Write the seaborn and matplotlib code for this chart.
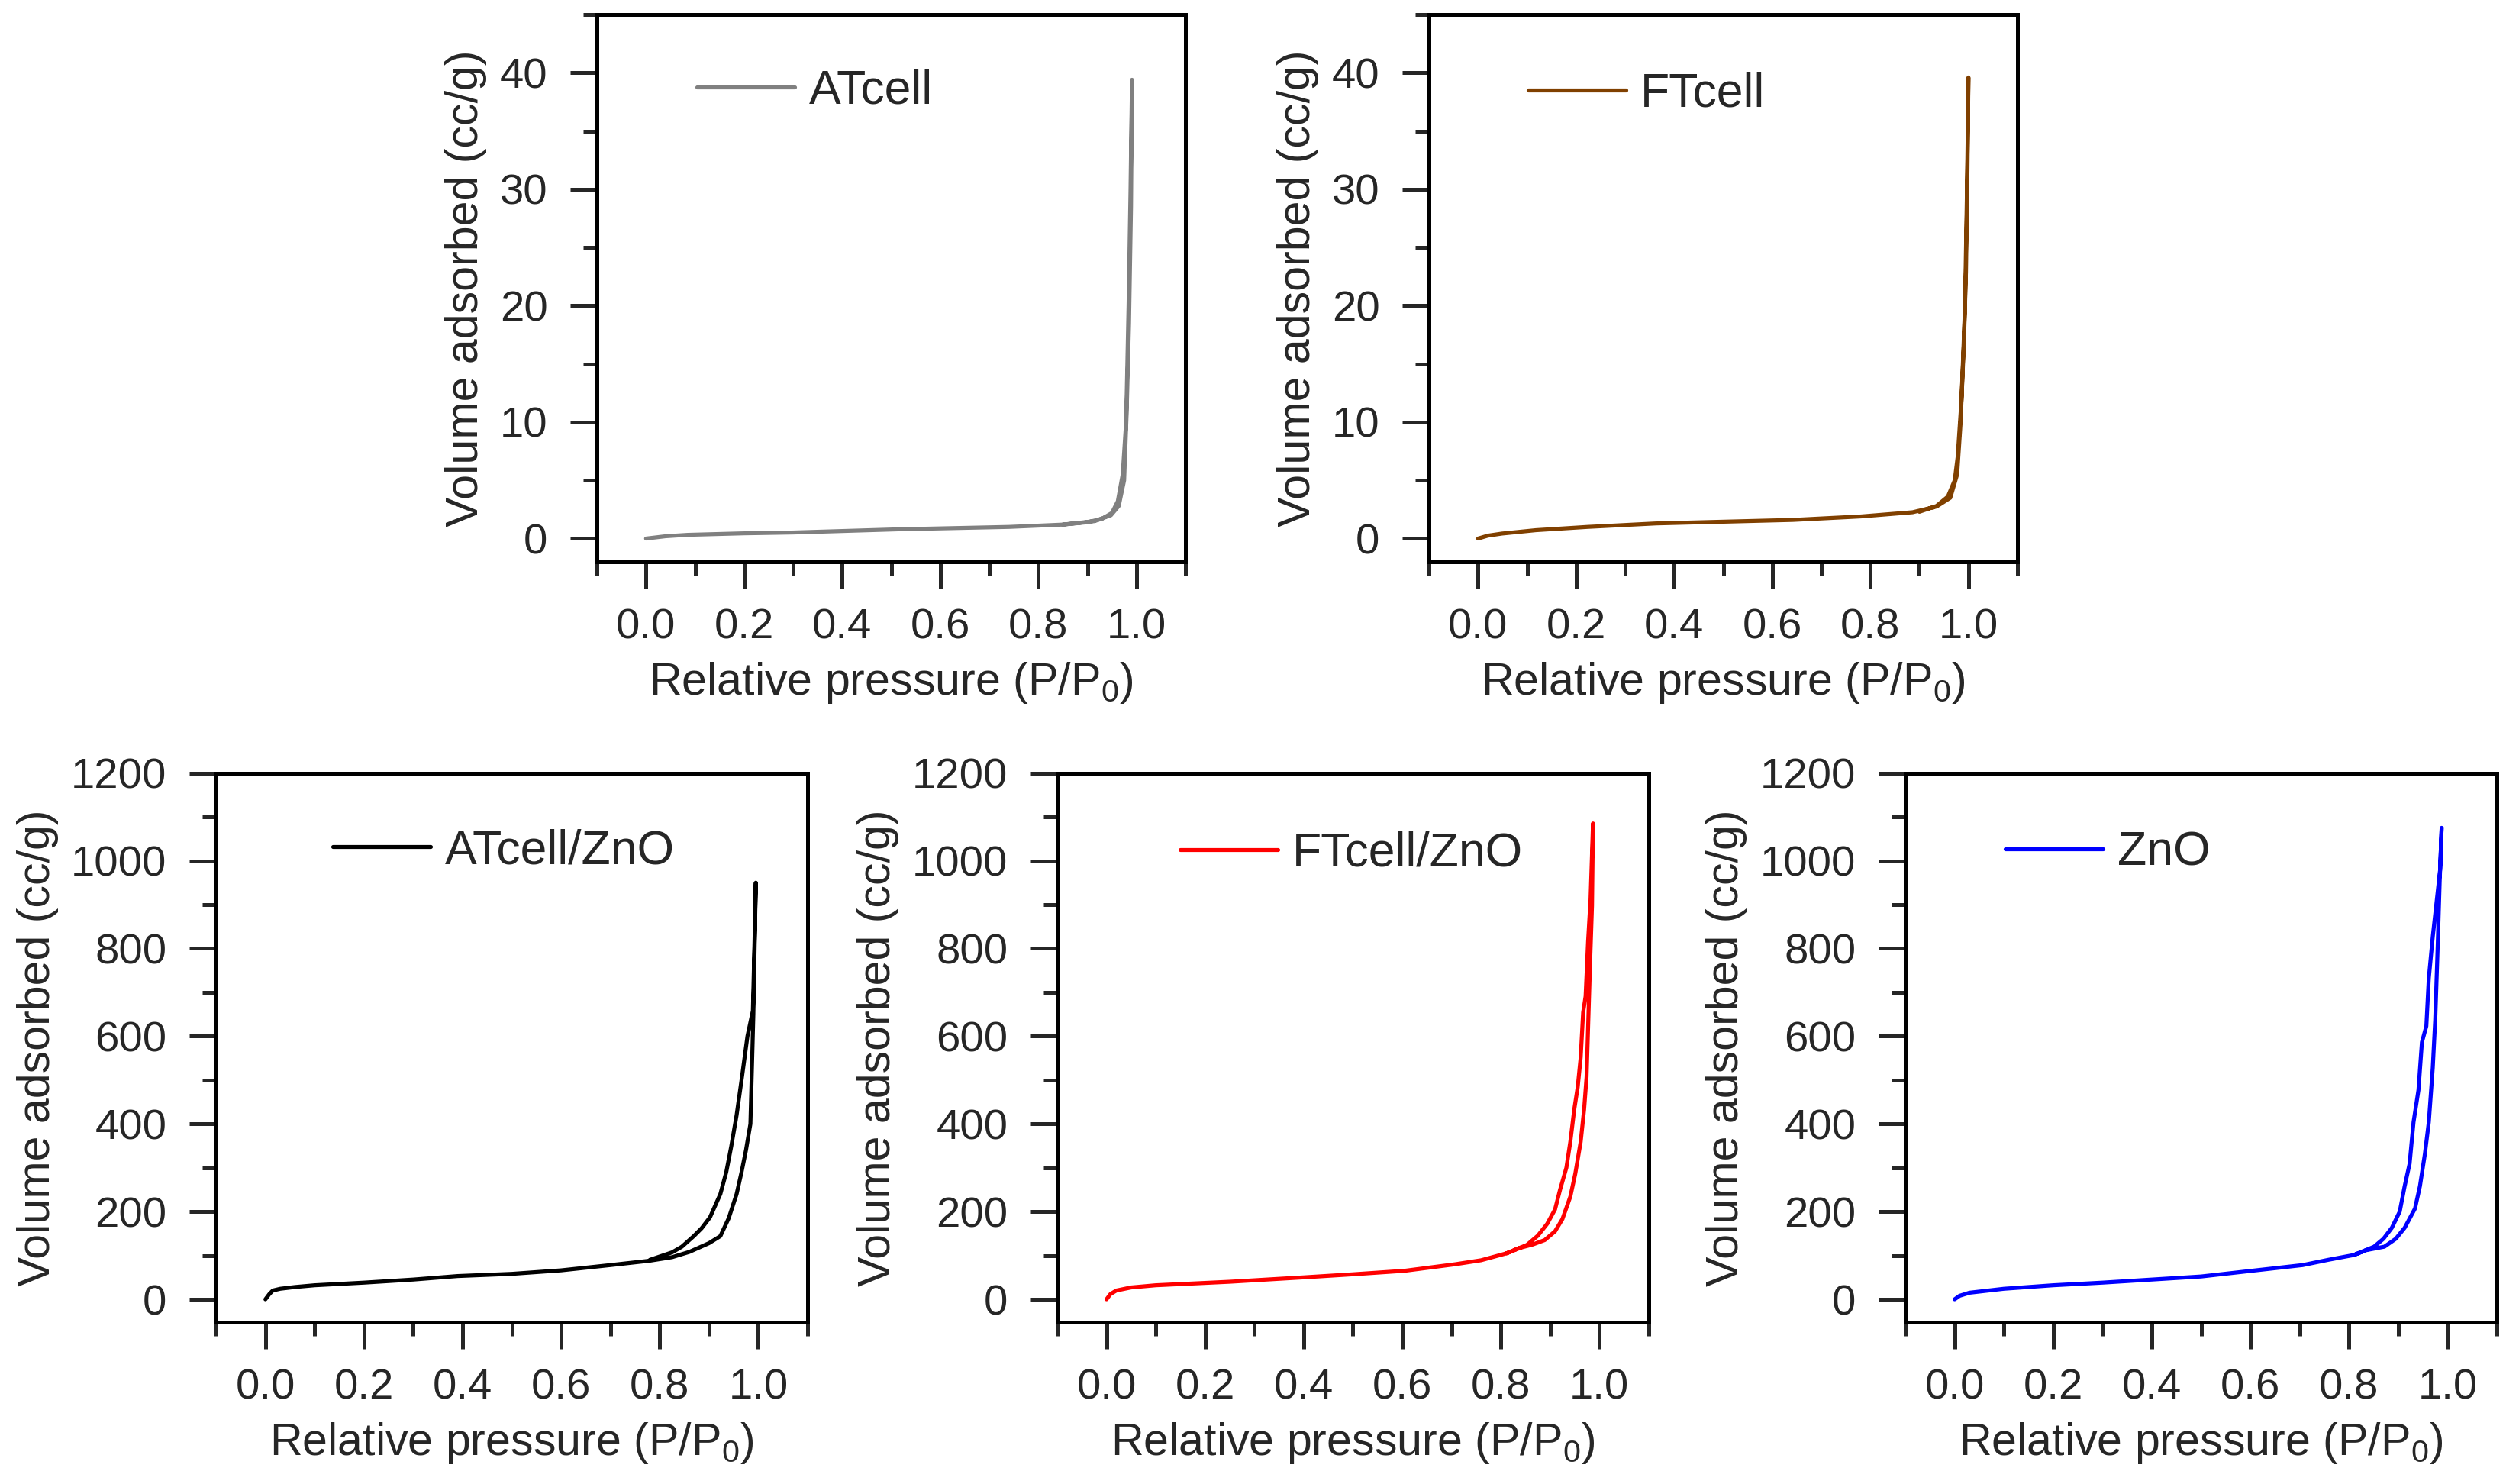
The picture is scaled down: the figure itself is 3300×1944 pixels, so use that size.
import matplotlib
matplotlib.use("Agg")
import matplotlib.pyplot as plt
from matplotlib.ticker import MultipleLocator
import seaborn as sns
import pandas as pd

# isotherm data: adsorption branch up, then desorption branch back down
atcell_p = [0.0, 0.04, 0.085, 0.2, 0.3, 0.52, 0.74, 0.85, 0.915, 0.948, 0.964, 0.975, 0.98, 0.985, 0.989, 0.991,
            0.988, 0.984, 0.979, 0.972, 0.962, 0.95, 0.93, 0.9, 0.85]
atcell_v = [0.0, 0.2, 0.32, 0.45, 0.52, 0.8, 1.0, 1.2, 1.5, 2.0, 2.8, 5.0, 10.6, 18.5, 28.5, 39.4,
            30.0, 20.0, 10.0, 5.5, 3.2, 2.2, 1.7, 1.4, 1.2]

ftcell_p = [0.0, 0.02, 0.049, 0.118, 0.223, 0.363, 0.502, 0.642, 0.781, 0.886, 0.935, 0.963, 0.977, 0.984, 0.991, 0.995, 0.998, 1.0,
            0.997, 0.993, 0.986, 0.978, 0.972, 0.958, 0.935, 0.9]
ftcell_v = [0.0, 0.25, 0.43, 0.72, 1.0, 1.3, 1.45, 1.6, 1.9, 2.26, 2.75, 3.5, 5.5, 9.9, 17.1, 22.9, 31.6, 39.6,
            30.0, 20.0, 12.0, 7.0, 5.0, 3.6, 2.8, 2.3]

atzno_p = [0.0, 0.008, 0.015, 0.03, 0.06, 0.1, 0.2, 0.3, 0.39, 0.5, 0.6, 0.7, 0.78, 0.825, 0.86, 0.88, 0.9, 0.923, 0.94,
           0.956, 0.966, 0.975, 0.984, 0.99, 0.995,
           0.992, 0.989, 0.978, 0.967, 0.956, 0.945, 0.935, 0.923, 0.902, 0.885, 0.869, 0.845, 0.825, 0.78]
atzno_v = [0.0, 12, 20, 24, 28, 32, 38, 45, 53, 58, 66, 78, 88, 96, 108, 118, 128, 144, 185,
           240, 290, 340, 400, 650, 950,
           800, 658, 600, 508, 420, 348, 290, 240, 187, 162, 144, 120, 107, 90]

ftzno_p = [0.0, 0.008, 0.02, 0.05, 0.1, 0.25, 0.4, 0.5, 0.605, 0.708, 0.76, 0.812, 0.838, 0.865, 0.889, 0.91, 0.925, 0.941, 0.951,
           0.962, 0.969, 0.974, 0.977, 0.981, 0.985, 0.987,
           0.982, 0.977, 0.972, 0.967, 0.962, 0.956, 0.949, 0.941, 0.933, 0.92, 0.91, 0.894, 0.875, 0.853, 0.812]
ftzno_v = [0.0, 12, 20, 27, 32, 40, 50, 57, 65, 80, 89, 105, 117, 125, 135, 155, 183, 234, 286,
           359, 433, 507, 617, 764, 897, 1085,
           911, 816, 691, 654, 551, 484, 433, 359, 300, 249, 205, 172, 145, 124, 105]

zno_p = [0.0, 0.01, 0.03, 0.1, 0.2, 0.3, 0.4, 0.5, 0.603, 0.706, 0.758, 0.81, 0.835, 0.872, 0.895, 0.913, 0.934, 0.944, 0.954,
         0.962, 0.97, 0.975, 0.98, 0.984, 0.988,
         0.985, 0.975, 0.97, 0.962, 0.957, 0.948, 0.941, 0.931, 0.923, 0.913, 0.903, 0.887, 0.87, 0.851, 0.81]
zno_v = [0.0, 8, 15, 24, 32, 38, 45, 52, 65, 78, 90, 101, 112, 120, 138, 163, 207, 258, 331,
         404, 528, 637, 805, 951, 1075,
         980, 878, 827, 732, 623, 586, 477, 404, 309, 258, 200, 163, 138, 120, 101]

names = ["ATcell", "FTcell", "ATcell/ZnO", "FTcell/ZnO", "ZnO"]
colors = ["#808080", "#804000", "#000000", "#FF0000", "#0000FF"]
pressures = [atcell_p, ftcell_p, atzno_p, ftzno_p, zno_p]
volumes = [atcell_v, ftcell_v, atzno_v, ftzno_v, zno_v]

sns.set_style("ticks")
plt.rcParams["font.family"] = ["Liberation Sans", "DejaVu Sans"]
plt.rcParams["mathtext.default"] = "regular"
plt.rcParams["axes.linewidth"] = 1.2

fig = plt.figure(figsize=(11, 6.48), dpi=300)

# axes boxes in figure fraction (left, bottom, width, height)
boxes = [
    (0.2370, 0.6214, 0.2336, 0.3688),
    (0.5673, 0.6214, 0.2336, 0.3688),
    (0.0858, 0.1091, 0.2348, 0.3700),
    (0.4197, 0.1091, 0.2348, 0.3700),
    (0.7564, 0.1091, 0.2348, 0.3700),
]
legend_pos = [(0.17, 0.86), (0.168, 0.855), (0.197, 0.858), (0.208, 0.853), (0.169, 0.855)]

for i in range(5):
    ax = fig.add_axes(boxes[i])
    df = pd.DataFrame({"p": pressures[i], "v": volumes[i]})
    sns.lineplot(data=df, x="p", y="v", sort=False, estimator=None, color=colors[i],
                 linewidth=1.25, label=names[i], ax=ax)
    ax.set_xlim(-0.1, 1.1)
    ax.xaxis.set_major_locator(MultipleLocator(0.2))
    ax.xaxis.set_minor_locator(MultipleLocator(0.1))
    if i < 2:
        ax.set_ylim(-2, 45)
        ax.yaxis.set_major_locator(MultipleLocator(10))
        ax.yaxis.set_minor_locator(MultipleLocator(5))
    else:
        ax.set_ylim(-52, 1200)
        ax.yaxis.set_major_locator(MultipleLocator(200))
        ax.yaxis.set_minor_locator(MultipleLocator(100))
    ax.set_xticks([0.0, 0.2, 0.4, 0.6, 0.8, 1.0])
    ax.set_xticklabels(["0.0", "0.2", "0.4", "0.6", "0.8", "1.0"])
    ax.tick_params(axis="both", which="major", direction="out", length=8.5, width=1.2,
                   labelsize=13.5, top=False, right=False)
    ax.tick_params(axis="both", which="minor", direction="out", length=4.3, width=1.2,
                   top=False, right=False)
    ax.tick_params(axis="x", which="major", pad=6)
    ax.tick_params(axis="y", which="major", pad=7)
    ax.set_xlabel("Relative pressure (P/P$_0$)", fontsize=14.2, labelpad=4)
    ax.set_ylabel("Volume adsorbed (cc/g)", fontsize=14.2, labelpad=4)
    for s in ax.spines.values():
        s.set_linewidth(1.2)
        s.set_color("black")
    ax.legend(loc="center left", bbox_to_anchor=legend_pos[i], frameon=False, fontsize=15,
              handlelength=2.05, handletextpad=0.3, borderpad=0, borderaxespad=0)

fig.savefig("out.png", dpi=300, facecolor="white")
